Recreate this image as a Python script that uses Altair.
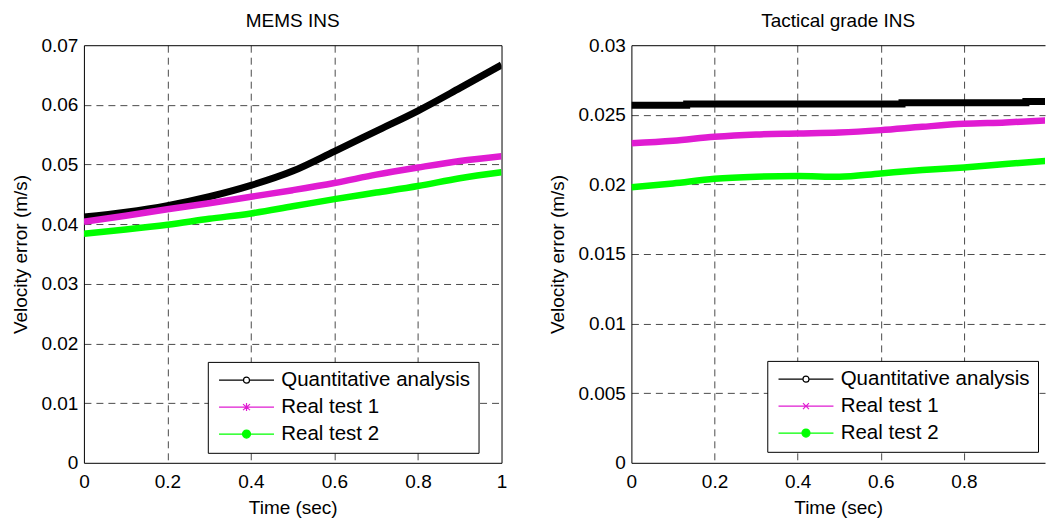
import altair as alt
import pandas as pd

FONT = "Liberation Sans"
SERIES = ["Quantitative analysis", "Real test 1", "Real test 2"]
COLORS = ["#000000", "#e01cd2", "#00ff00"]

# MEMS INS panel
MEMS_T = [0.0, 0.1, 0.2, 0.3, 0.4, 0.5, 0.6, 0.7, 0.8, 0.9, 1.0]
MEMS_QA = [0.0412, 0.0420, 0.0431, 0.0446, 0.0465, 0.0489, 0.0522, 0.0556, 0.0590, 0.0628, 0.0667]
MEMS_RT1 = [0.0404, 0.0414, 0.0425, 0.0435, 0.0446, 0.0457, 0.0469, 0.0483, 0.0495, 0.0506, 0.0514]
MEMS_RT2 = [0.0384, 0.0391, 0.0399, 0.0409, 0.0418, 0.0430, 0.0442, 0.0453, 0.0464, 0.0477, 0.0487]

# Tactical grade INS panel
TAC_QA_T = [0.0, 0.133, 0.651, 0.949, 1.0]
TAC_QA = [0.02569, 0.02577, 0.02586, 0.02596, 0.02596]
TAC_T = [0.0, 0.1, 0.2, 0.3, 0.4, 0.5, 0.6, 0.7, 0.8, 0.9, 1.0]
TAC_RT1 = [0.02295, 0.02313, 0.02342, 0.02359, 0.02366, 0.02373, 0.02390, 0.02414, 0.02435, 0.02445, 0.02460]
TAC_RT2 = [0.01979, 0.02007, 0.02040, 0.02055, 0.02060, 0.02055, 0.02079, 0.02103, 0.02122, 0.02146, 0.02170]

MEMS_X_TICKS = [0, 0.2, 0.4, 0.6, 0.8, 1]
MEMS_Y_TICKS = [0, 0.01, 0.02, 0.03, 0.04, 0.05, 0.06, 0.07]
TAC_X_TICKS = [0, 0.2, 0.4, 0.6, 0.8]
TAC_Y_TICKS = [0, 0.005, 0.01, 0.015, 0.02, 0.025, 0.03]

# legend glyphs: line with marker (pixel units, size=4 -> scale 1)
SYM_CIRCLE = "M-7,0L17.5,0M23.5,0L48,0M17.5,0A3,3,0,1,0,23.5,0A3,3,0,1,0,17.5,0"
SYM_STAR = "M-7,0L48,0M20.5,-4L20.5,4M17,-3L24,3M17,3L24,-3"
SYM_X = "M-7,0L48,0M17.5,-3L23.5,3M17.5,3L23.5,-3"
SYM_DOT = "M-7,0L48,0M16.5,0A4,4,0,1,0,24.5,0A4,4,0,1,0,16.5,0"
LEGEND_FILLS = ["white", "transparent", "#00ff00"]


def frame(ts, vs, name):
    return pd.DataFrame({"t": ts, "v": vs, "series": name})


def grid_props(edge_test, zero_test):
    return dict(
        grid=True,
        gridColor={"condition": {"test": edge_test, "value": "black"}, "value": "#4a4a4a"},
        gridDash={"condition": {"test": edge_test, "value": []}, "value": [7, 5]},
        gridOpacity={"condition": {"test": zero_test, "value": 0}, "value": 1},
    )


def panel(title, frames, x_dom, x_ticks, x_edge, y_dom, y_ticks, y_edge,
          interps, shapes, lx, ly, width):
    x_axis = alt.Axis(values=x_ticks, title="Time (sec)", labelExpr="'' + datum.value",
                      ticks=False, labelPadding=10, titlePadding=7, labelFlush=False,
                      domainColor="black",
                      **grid_props(x_edge, "datum.value <= 0"))
    y_axis = alt.Axis(values=y_ticks, title="Velocity error (m/s)", labelExpr="'' + datum.value",
                      ticks=False, labelPadding=6, titlePadding=10, domainColor="black",
                      **grid_props(y_edge, "datum.value <= 0"))
    X = alt.X("t:Q", scale=alt.Scale(domain=x_dom, nice=False, zero=False), axis=x_axis)
    Y = alt.Y("v:Q", scale=alt.Scale(domain=y_dom, nice=False, zero=False), axis=y_axis)

    layers = []
    for i, (df, color, interp) in enumerate(zip(frames, COLORS, interps)):
        sw = 7 if i == 0 else 6.5
        layers.append(alt.Chart(df).mark_line(color=color, strokeWidth=sw, clip=True,
                                              interpolate=interp).encode(x=X, y=Y))

    leg = alt.Legend(orient="none", legendX=lx, legendY=ly, title=None,
                     strokeColor="black", fillColor="white", padding=8, cornerRadius=0,
                     labelFont=FONT, labelFontSize=20.5, labelColor="black", labelLimit=500,
                     labelExpr="datum.label + '\u00a0'",
                     labelOffset=45, rowPadding=6, symbolSize=4, symbolStrokeWidth=1.2,
                     symbolOpacity=1)
    all_df = pd.concat(frames)
    layers.append(alt.Chart(all_df).mark_point(opacity=0, clip=True).encode(
        x=X, y=Y,
        shape=alt.Shape("series:N", scale=alt.Scale(domain=SERIES, range=shapes), legend=leg),
        stroke=alt.Stroke("series:N", scale=alt.Scale(domain=SERIES, range=COLORS), legend=leg),
        fill=alt.Fill("series:N", scale=alt.Scale(domain=SERIES, range=LEGEND_FILLS), legend=leg),
    ))
    return alt.layer(*layers).properties(
        width=width, height=418,
        title=alt.TitleParams(title, font=FONT, fontSize=19, fontWeight="normal",
                              color="black", offset=5, anchor="middle"),
    )


left = panel("MEMS INS",
             [frame(MEMS_T, MEMS_QA, SERIES[0]), frame(MEMS_T, MEMS_RT1, SERIES[1]),
              frame(MEMS_T, MEMS_RT2, SERIES[2])],
             [0, 1], MEMS_X_TICKS, "datum.value >= 0.999",
             [0, 0.07], MEMS_Y_TICKS, "datum.value >= 0.0699",
             ["monotone", "monotone", "monotone"],
             [SYM_CIRCLE, SYM_STAR, SYM_DOT], 124, 317, 418)

right = panel("Tactical grade INS",
              [frame(TAC_QA_T, TAC_QA, SERIES[0]), frame(TAC_T, TAC_RT1, SERIES[1]),
               frame(TAC_T, TAC_RT2, SERIES[2])],
              [0, 0.995], TAC_X_TICKS, "datum.value >= 2",
              [0, 0.03], TAC_Y_TICKS, "datum.value >= 0.0299",
              ["step-after", "monotone", "monotone"],
              [SYM_CIRCLE, SYM_X, SYM_DOT], 136, 316, 414)

chart = alt.hconcat(left, right, spacing=130, bounds="flush").resolve_scale(
    x="independent", y="independent",
    stroke="independent", fill="independent", shape="independent",
).resolve_legend(
    stroke="independent", fill="independent", shape="independent",
).properties(
    padding={"left": 11, "top": 11, "right": 0, "bottom": 0},
    background="white",
).configure_view(
    stroke="transparent",
).configure_axis(
    labelFont=FONT, labelFontSize=19, labelColor="black",
    titleFont=FONT, titleFontSize=19, titleFontWeight="normal", titleColor="black",
    domainColor="black", domainWidth=1, gridWidth=1,
)

chart.save("out.html", embed_options={"renderer": "svg", "actions": False})
